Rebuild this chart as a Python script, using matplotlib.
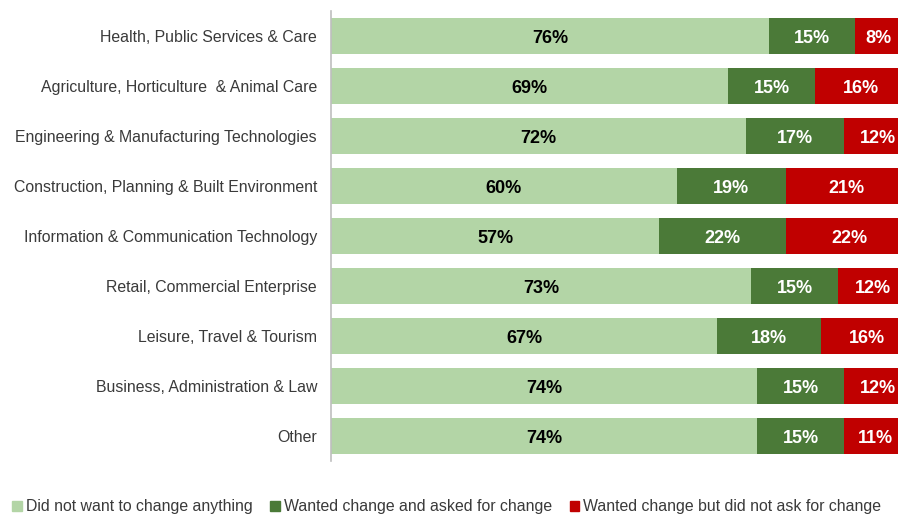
import matplotlib

matplotlib.use("Agg")
import matplotlib.pyplot as plt
from matplotlib.patches import Patch

plt.rcParams["font.family"] = ["Liberation Sans", "DejaVu Sans"]

categories = [
    "Health, Public Services & Care",
    "Agriculture, Horticulture  & Animal Care",
    "Engineering & Manufacturing Technologies",
    "Construction, Planning & Built Environment",
    "Information & Communication Technology",
    "Retail, Commercial Enterprise",
    "Leisure, Travel & Tourism",
    "Business, Administration & Law",
    "Other",
]
no_change = [76, 69, 72, 60, 57, 73, 67, 74, 74]
asked = [15, 15, 17, 19, 22, 15, 18, 15, 15]
not_asked = [8, 16, 12, 21, 22, 12, 16, 12, 11]

series_names = [
    "Did not want to change anything",
    "Wanted change and asked for change",
    "Wanted change but did not ask for change",
]
colors = ["#B3D5A6", "#4B7A38", "#C00000"]
text_colors = ["black", "white", "white"]

fig = plt.figure(figsize=(8.98, 5.14), dpi=100)
ax = fig.add_axes([331 / 898, 53 / 514, 576 / 898, 450 / 514])

y = list(range(len(categories)))
left = [0] * len(categories)
for values, color, tcolor in zip([no_change, asked, not_asked], colors, text_colors):
    ax.barh(y, values, left=left, height=0.72, color=color)
    for i, v in enumerate(values):
        ax.text(left[i] + v / 2, i + 0.14, f"{v}%", ha="center", va="baseline",
                color=tcolor, fontsize=13, fontweight="bold")
    left = [a + b for a, b in zip(left, values)]

ax.set_xlim(0, 100)
ax.set_ylim(len(categories) - 0.5, -0.5)
ax.set_yticks(y)
ax.set_yticklabels(categories, fontsize=11.4, color="#3A3A3A")
ax.tick_params(axis="y", length=0, pad=10)
ax.set_xticks([])
for side in ["top", "right", "bottom"]:
    ax.spines[side].set_visible(False)
ax.spines["left"].set_color("#BFBFBF")
ax.spines["left"].set_linewidth(1.2)

handles = [Patch(color=c) for c in colors]
fig.legend(handles, series_names, loc="lower left", bbox_to_anchor=(-0.002, -0.028),
           ncol=3, frameon=False, fontsize=11.4, handlelength=0.6, handleheight=0.6,
           handletextpad=0.25, columnspacing=1.12, labelcolor="#3A3A3A")

fig.savefig("out.png", dpi=100)
